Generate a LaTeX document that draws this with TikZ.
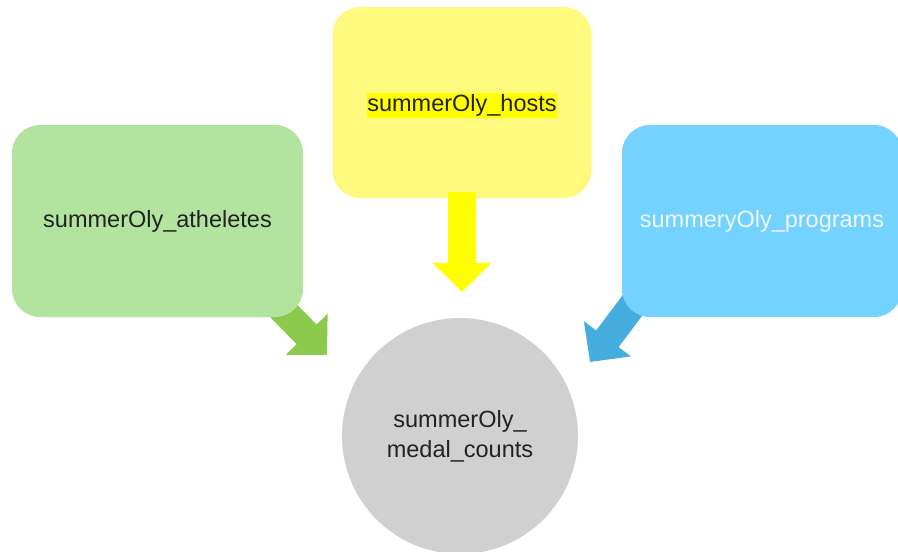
\documentclass[tikz,border=0pt]{standalone}
\usepackage{fontspec}
\setmainfont{Liberation Sans}
\usetikzlibrary{arrows.meta}
\definecolor{ybox}{RGB}{255,250,125}
\definecolor{yarr}{RGB}{255,255,0}
\definecolor{gbox}{RGB}{178,228,160}
\definecolor{garr}{RGB}{140,202,78}
\definecolor{bbox}{RGB}{116,210,254}
\definecolor{barr}{RGB}{70,174,222}
\definecolor{cgray}{RGB}{208,208,208}
\definecolor{txt}{RGB}{34,34,34}
\definecolor{btxt}{RGB}{238,248,255}
\pgfdeclarelayer{back}
\pgfsetlayers{back,main}
\begin{document}
\begin{tikzpicture}[x=1pt,y=-1pt,
  card/.style={rounded corners=28pt, inner sep=0pt, draw=none},
  lbl/.style={font=\fontsize{23.5}{30}\selectfont, text=txt, inner sep=0pt},
  fat/.style={line width=28pt, draw=#1, -{Triangle[width=57pt,length=29pt,fill=#1]}}]
\useasboundingbox (0,0) rectangle (898,552);
% boxes
\node[card, fill=ybox, minimum width=259pt, minimum height=191pt] (hosts) at (462,102.5) {};
\node[card, fill=gbox, minimum width=291pt, minimum height=192pt, lbl] (athletes) at (157.5,221) {summerOly\_atheletes};
\node[card, fill=bbox, minimum width=280pt, minimum height=192pt, lbl, text=btxt] (programs) at (762,221) {summeryOly\_programs};
\node[lbl, fill=yarr, text height=18pt, text depth=7pt] (hostslbl) at (462,105.5) {summerOly\_hosts};
\node[circle, fill=cgray, minimum size=236pt, inner sep=0pt, align=center, lbl] (medal) at (460,436) {summerOly\_\\medal\_counts};
% arrow tips
\coordinate (ytip) at (462,292);
\coordinate (gtip) at (327,355);
\coordinate (btip) at (590,362);
\draw[fat=yarr] ([yshift=6pt]hosts.south) -- (ytip);
\begin{pgfonlayer}{back}
\fill[white] (0,0) rectangle (898,552);
\draw[fat=garr] ([xshift=-33pt,yshift=20pt]athletes.south east) -- (gtip);
\draw[fat=barr] ([xshift=22pt,yshift=27pt]programs.south west) -- (btip);
\end{pgfonlayer}
\end{tikzpicture}
\end{document}
